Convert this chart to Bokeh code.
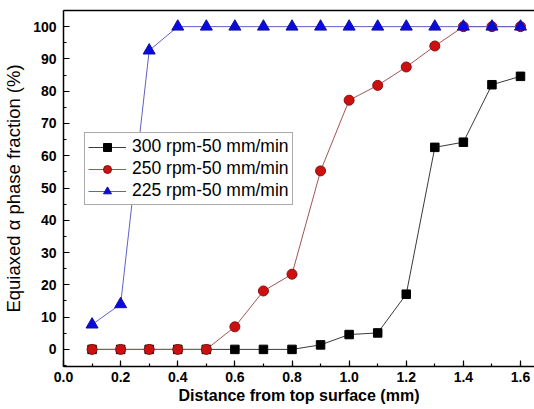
from bokeh.plotting import figure
from bokeh.models import (SingleIntervalTicker, NumeralTickFormatter, Legend, LegendItem,
                          LinearAxis, Range1d)
from bokeh.embed import file_html
from bokeh.resources import INLINE

# Data
distance = [0.1, 0.2, 0.3, 0.4, 0.5, 0.6, 0.7, 0.8, 0.9, 1.0, 1.1, 1.2, 1.3, 1.4, 1.5, 1.6]
rpm300 = [0, 0, 0, 0, 0, 0, 0, 0, 1.4, 4.6, 5.1, 17.1, 62.6, 64.2, 82.0, 84.6]
rpm250 = [0, 0, 0, 0, 0, 7.0, 18.1, 23.3, 55.3, 77.2, 81.8, 87.5, 94.0, 100, 100, 100]
rpm225 = [7.7, 14.0, 92.6, 100, 100, 100, 100, 100, 100, 100, 100, 100, 100, 100, 100, 100]
labels = ["300 rpm-50 mm/min", "250 rpm-50 mm/min", "225 rpm-50 mm/min"]

FONT = "Liberation Sans"

p = figure(width=534, height=409, output_backend="svg", toolbar_location=None,
           x_range=Range1d(0, 1.649), y_range=Range1d(-5.3, 105),
           min_border_left=62, min_border_top=10, min_border_right=0, min_border_bottom=43)
p.outline_line_color = None
p.grid.visible = False
p.background_fill_color = "white"

for ax in (p.xaxis[0], p.yaxis[0]):
    ax.axis_line_color = "black"
    ax.axis_line_width = 1.5
    ax.major_tick_in = 6
    ax.major_tick_out = 0
    ax.minor_tick_in = 3
    ax.minor_tick_out = 0
    ax.major_tick_line_width = 1.2
    ax.minor_tick_line_width = 1.2
    ax.major_label_text_font = FONT
    ax.major_label_text_font_style = "bold"
    ax.major_label_text_font_size = "14px"
    ax.major_label_text_color = "black"
    ax.axis_label_text_font = FONT
    ax.axis_label_text_color = "black"

p.xaxis.ticker = SingleIntervalTicker(interval=0.2, num_minor_ticks=2)
p.xaxis.formatter = NumeralTickFormatter(format="0.0")
p.yaxis.ticker = SingleIntervalTicker(interval=10, num_minor_ticks=2)
p.yaxis.formatter = NumeralTickFormatter(format="0")
p.xaxis.axis_label = "Distance from top surface (mm)"
p.yaxis.axis_label = "Equiaxed \u03b1 phase fraction (%)"
p.xaxis.axis_label_text_font_style = "bold"
p.xaxis.axis_label_text_font_size = "16px"
p.yaxis.axis_label_text_font_style = "normal"
p.yaxis.axis_label_text_font_size = "18.5px"
p.xaxis.major_label_standoff = 5
p.yaxis.major_label_standoff = 7
p.xaxis.axis_label_standoff = 2
p.yaxis.axis_label_standoff = 6

top = LinearAxis(major_tick_in=0, major_tick_out=0, minor_tick_in=0, minor_tick_out=0,
                 major_label_text_font_size="0px", axis_line_width=1.5)
top.major_label_text_alpha = 0
p.add_layout(top, "above")

l1 = p.line(distance, rpm300, line_color="#3a3a3a", line_width=1)
m1 = p.scatter(distance, rpm300, marker="square", size=8.5, fill_color="black", line_color="black")
l2 = p.line(distance, rpm250, line_color="#a05555", line_width=1)
m2 = p.scatter(distance, rpm250, marker="circle", size=10, fill_color="#cc1010", line_color="#8a1010")
l3 = p.line(distance, rpm225, line_color="#6060c8", line_width=1)
m3 = p.scatter(distance, rpm225, marker="triangle", size=12, fill_color="#0a0ae0", line_color="#1010a0")

legend = Legend(items=[LegendItem(label=labels[0], renderers=[l1, m1]),
                       LegendItem(label=labels[1], renderers=[l2, m2]),
                       LegendItem(label=labels[2], renderers=[l3, m3])],
                location=(21, 161), border_line_color="#555555", border_line_width=1,
                label_text_font=FONT, label_text_font_size="17.5px", label_text_color="black",
                glyph_width=38, glyph_height=20, label_height=20, spacing=1, padding=3, margin=0,
                label_standoff=6, background_fill_alpha=1)
p.add_layout(legend, "center")

open("out.html", "w").write(file_html(p, INLINE))
